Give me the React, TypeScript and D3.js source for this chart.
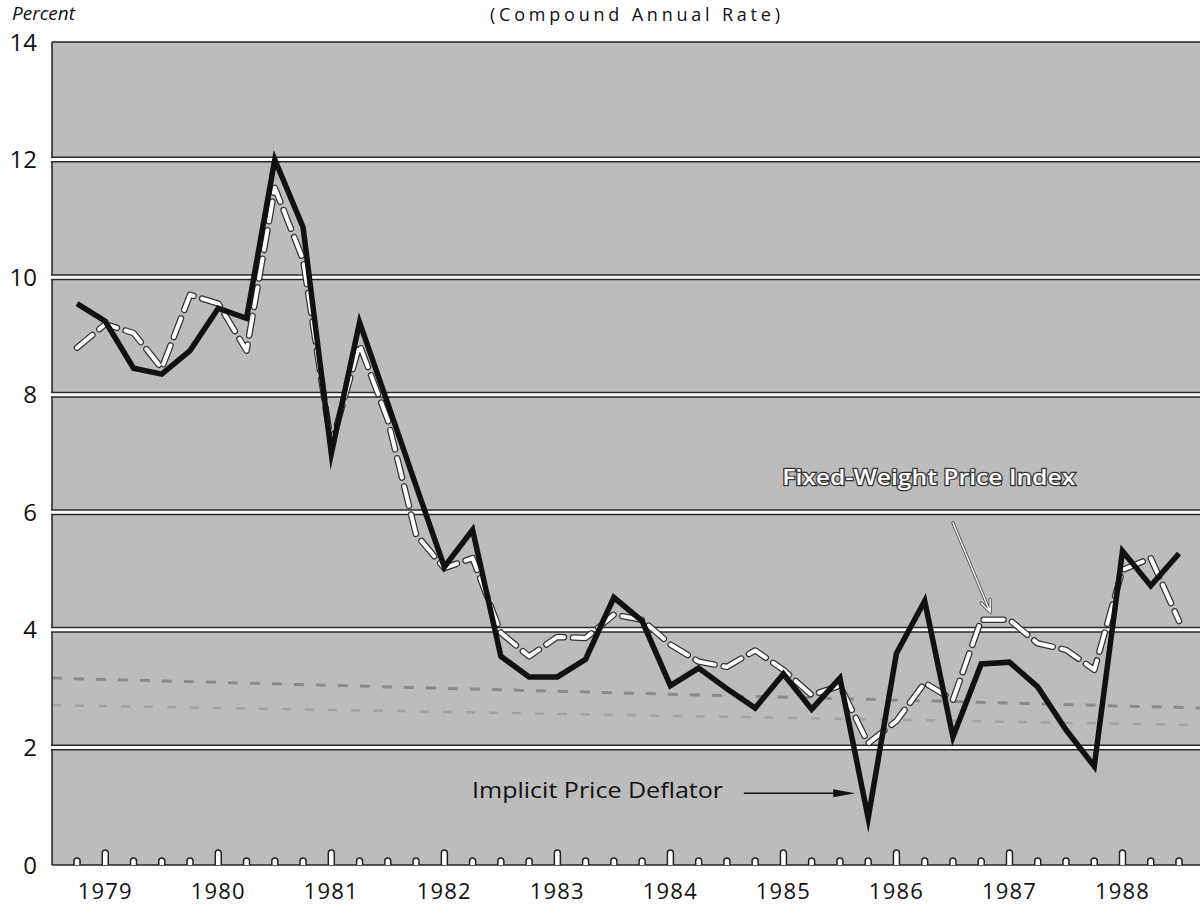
import React from "react";
import * as d3 from "d3";

// ---- data (quarterly, 40 quarters) ----
const years = ["1979", "1980", "1981", "1982", "1983", "1984", "1985", "1986", "1987", "1988"];
const implicitPriceDeflator = [
  9.55, 9.25, 8.45, 8.35, 8.75, 9.47, 9.3, 12.0, 10.85, 7.0,
  9.23, 7.85, 6.45, 5.07, 5.7, 3.55, 3.2, 3.2, 3.5, 4.55,
  4.15, 3.05, 3.35, 3.0, 2.67, 3.25, 2.65, 3.18, 0.8, 3.6,
  4.49, 2.18, 3.42, 3.45, 3.03, 2.3, 1.68, 5.34, 4.75, 5.3,
];
const fixedWeightPriceIndex = [
  8.8, 9.2, 9.05, 8.45, 9.7, 9.55, 8.75, 11.52, 10.3, 7.15,
  8.85, 7.57, 5.62, 5.05, 5.22, 3.95, 3.55, 3.88, 3.86, 4.26,
  4.17, 3.75, 3.46, 3.37, 3.65, 3.32, 2.89, 3.05, 2.07, 2.45,
  3.1, 2.81, 4.17, 4.17, 3.77, 3.66, 3.32, 5.02, 5.22, 4.15,
];
const yTickValues = [0, 2, 4, 6, 8, 10, 12, 14];
const gridValues = [2, 4, 6, 8, 10, 12];
// faint print-through dashes (value at left edge, value at right edge)
const printThroughUpper = [3.18, 2.67];
const printThroughLower = [2.72, 2.38];

const W = 1200;
const H = 907;
const FONT = "'Open Sans', 'DejaVu Sans', sans-serif";

export default function App() {
  const x = d3.scaleLinear().domain([0, 39]).range([77, 1179]);
  const y = d3.scaleLinear().domain([0, 14]).range([865, 42]);
  const left = 52;
  const right = W;
  const top = y(14);
  const bottom = y(0);
  const edge = d3.scaleLinear().domain([0, 1]).range([left, right]);

  const line = d3
    .line<number>()
    .x((_, i) => x(i))
    .y((d) => y(d));
  const edgeLine = d3
    .line<number>()
    .x((_, i) => edge(i))
    .y((d) => y(d));

  const idx = d3.range(implicitPriceDeflator.length);

  // annotation anchors (data space)
  const ipdText = { i: 13.98, v: 1.14 };
  const ipdArrowFrom = { i: 23.6, v: 1.22 };
  const ipdArrowTo = { i: 27.54, v: 1.22 };
  const fwText = { i: 24.96, v: 6.46 };
  const fwArrowFrom = { i: 31.0, v: 5.82 };
  const fwArrowTo = { i: 32.32, v: 4.3 };

  const ax1 = x(ipdArrowFrom.i);
  const ax2 = x(ipdArrowTo.i);
  const ay = y(ipdArrowTo.v);

  const fx1 = x(fwArrowFrom.i);
  const fy1 = y(fwArrowFrom.v);
  const fx2 = x(fwArrowTo.i);
  const fy2 = y(fwArrowTo.v);
  const ang = Math.atan2(fy2 - fy1, fx2 - fx1);
  const headLen = 13;
  const headSpread = 0.38;
  const h1x = fx2 - headLen * Math.cos(ang - headSpread);
  const h1y = fy2 - headLen * Math.sin(ang - headSpread);
  const h2x = fx2 - headLen * Math.cos(ang + headSpread);
  const h2y = fy2 - headLen * Math.sin(ang + headSpread);
  const fwArrowPath = `M${fx1},${fy1} L${fx2},${fy2} M${h1x},${h1y} L${fx2},${fy2} L${h2x},${h2y}`;

  return (
    <div style={{ position: "absolute", left: 0, top: 0 }}>
      <svg width={W} height={H} style={{ display: "block", background: "#fff" }}>
        {/* title */}
        <text
          x={490}
          y={21}
          fontFamily={FONT}
          fontSize={18}
          fontWeight={500}
          fill="#111"
          textLength={290}
          lengthAdjust="spacing"
        >
          (Compound Annual Rate)
        </text>
        <text x={12} y={20} fontFamily={FONT} fontSize={19} fontStyle="italic" fill="#111">
          Percent
        </text>

        {/* plot background */}
        <rect x={left} y={top} width={right - left} height={bottom - top} fill="#bcbcbc" />

        {/* faint print-through dashes */}
        <path
          d={edgeLine(printThroughUpper) || ""}
          fill="none"
          stroke="#8a8a8a"
          strokeWidth={3}
          strokeDasharray="10 12"
        />
        <path
          d={edgeLine(printThroughLower) || ""}
          fill="none"
          stroke="#a4a4a4"
          strokeWidth={2.5}
          strokeDasharray="9 14"
        />

        {/* borders */}
        <line x1={left} x2={right} y1={top} y2={top} stroke="#222" strokeWidth={1.5} />
        <line x1={left} x2={left} y1={top} y2={bottom} stroke="#222" strokeWidth={1.5} />

        {/* gridlines */}
        {gridValues.map((v) => (
          <g key={v}>
            <line x1={left - 1} x2={right} y1={y(v)} y2={y(v)} stroke="#2a2a2a" strokeWidth={6} />
            <line x1={left - 1} x2={right} y1={y(v)} y2={y(v)} stroke="#fff" strokeWidth={3} />
          </g>
        ))}

        {/* baseline and tick bumps */}
        <line x1={left} x2={right} y1={bottom} y2={bottom} stroke="#222" strokeWidth={1.6} />
        {idx.map((i) => {
          const cx = x(i);
          const h = i % 4 === 1 ? 15 : 7;
          const w = 3;
          return (
            <path
              key={i}
              d={`M${cx - w},${bottom} V${bottom - h + w} A${w},${w} 0 0 1 ${cx + w},${bottom - h + w} V${bottom}`}
              fill="#fff"
              stroke="#222"
              strokeWidth={1.5}
            />
          );
        })}

        {/* y tick labels */}
        {yTickValues.map((v) => (
          <text
            key={v}
            x={37}
            y={y(v)}
            dy="0.36em"
            textAnchor="end"
            fontFamily={FONT}
            fontSize={24}
            fontWeight={500}
            fill="#111"
          >
            {v}
          </text>
        ))}

        {/* year labels */}
        {years.map((yr, k) => (
          <text
            key={yr}
            x={x(1 + 4 * k)}
            y={899}
            textAnchor="middle"
            fontFamily={FONT}
            fontSize={22}
            fontWeight={500}
            letterSpacing={1.2}
            fill="#111"
          >
            {yr}
          </text>
        ))}

        {/* Fixed-weight price index: white dashed with dark outline */}
        <path
          d={line(fixedWeightPriceIndex) || ""}
          fill="none"
          stroke="#333"
          strokeWidth={6.5}
          strokeDasharray="20 9"
          strokeLinecap="round"
          strokeLinejoin="round"
        />
        <path
          d={line(fixedWeightPriceIndex) || ""}
          fill="none"
          stroke="#fff"
          strokeWidth={4}
          strokeDasharray="20 9"
          strokeLinecap="round"
          strokeLinejoin="round"
        />

        {/* Implicit price deflator: heavy black */}
        <path
          d={line(implicitPriceDeflator) || ""}
          fill="none"
          stroke="#111"
          strokeWidth={5.5}
          strokeLinejoin="miter"
          strokeMiterlimit={12}
        />

        {/* annotations */}
        <text
          x={x(ipdText.i)}
          y={y(ipdText.v)}
          fontFamily={FONT}
          fontSize={22}
          fontWeight={500}
          fill="#111"
          textLength={251}
          lengthAdjust="spacingAndGlyphs"
        >
          Implicit Price Deflator
        </text>
        <line x1={ax1} x2={ax2 - 18} y1={ay} y2={ay} stroke="#111" strokeWidth={1.6} />
        <path d={`M${ax2},${ay} L${ax2 - 22},${ay - 4} L${ax2 - 22},${ay + 4} Z`} fill="#111" />

        <text
          x={x(fwText.i)}
          y={y(fwText.v)}
          fontFamily={FONT}
          fontSize={22}
          fontWeight={600}
          fill="#fff"
          stroke="#333"
          strokeWidth={2.4}
          paintOrder="stroke"
          textLength={293}
          lengthAdjust="spacingAndGlyphs"
        >
          Fixed-Weight Price Index
        </text>
        <path d={fwArrowPath} fill="none" stroke="#444" strokeWidth={3} strokeLinecap="round" strokeLinejoin="round" />
        <path d={fwArrowPath} fill="none" stroke="#fff" strokeWidth={1.4} strokeLinecap="round" strokeLinejoin="round" />
      </svg>
    </div>
  );
}
